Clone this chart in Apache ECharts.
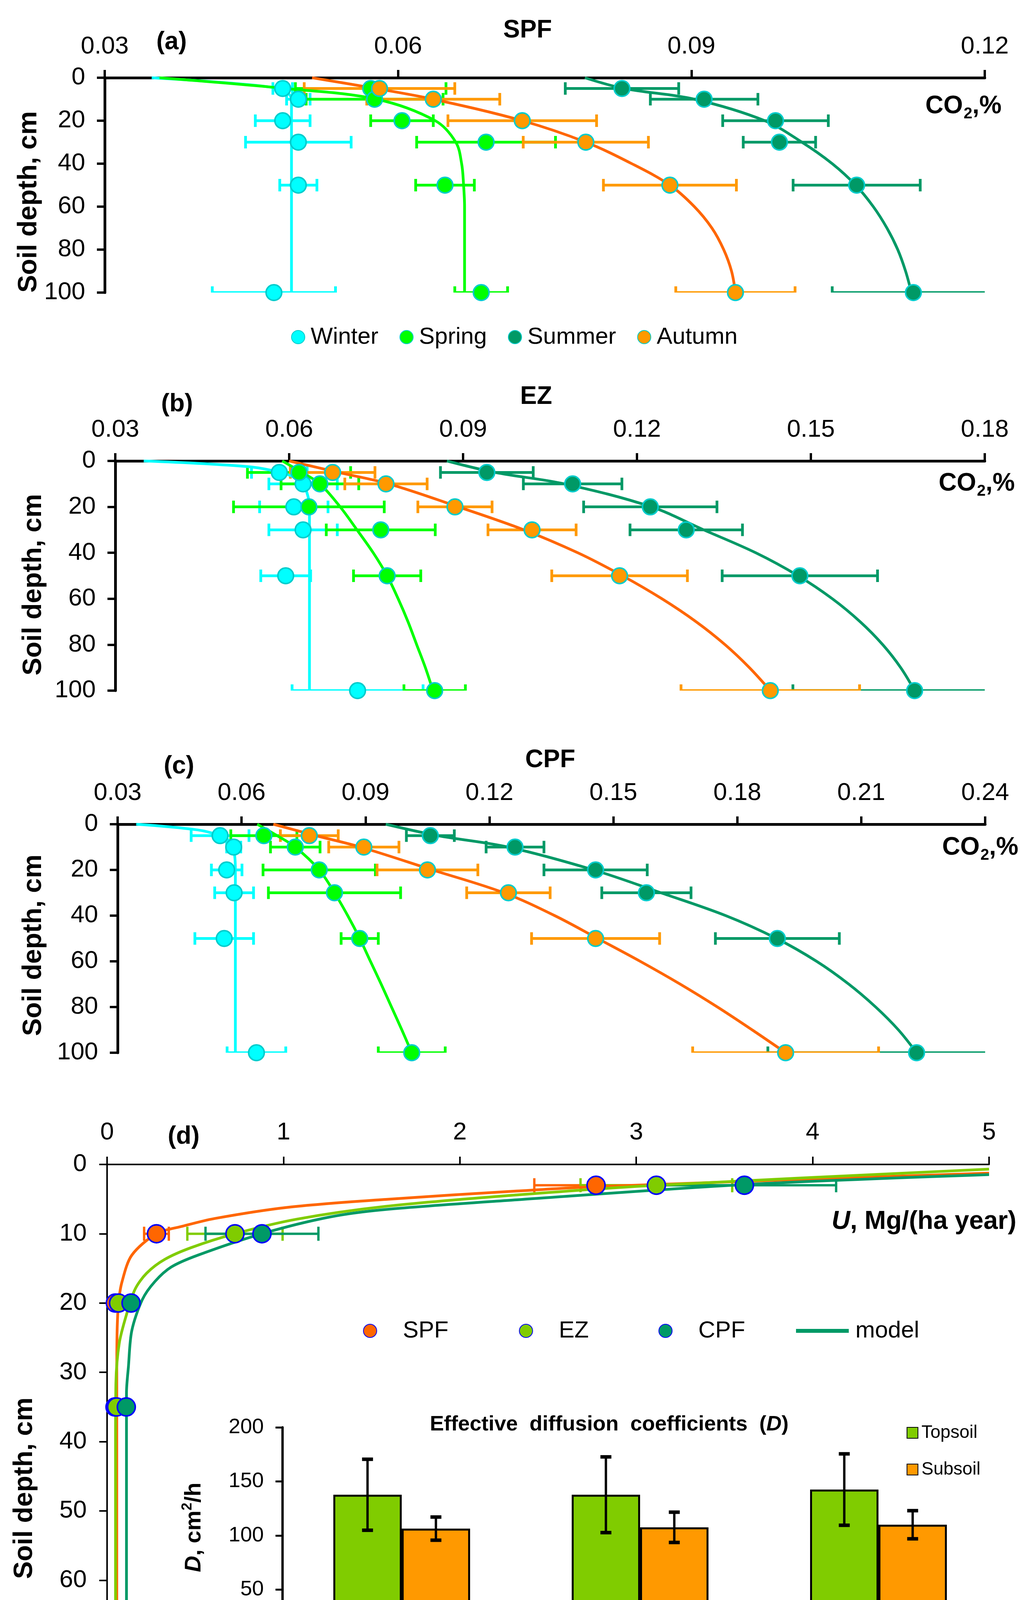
<!DOCTYPE html>
<html>
<head>
<meta charset="utf-8">
<title>Soil CO2 profiles and fluxes</title>
<script src="https://cdn.jsdelivr.net/npm/echarts@6/dist/echarts.min.js"></script>
<style>
  html, body { margin: 0; padding: 0; background: #fff; }
  #chart { width: 2646px; height: 4457px; }
</style>
</head>
<body>
<div id="chart"></div>
<script>
const FONT = 'Liberation Sans';

// sampling depths, cm
const DEPTHS = [5, 10, 20, 30, 50, 100];
const WINTER_MODEL_DEPTHS = [0, 2.5, 5, 7.5, 10, 15, 20, 40, 60, 80, 100];
const MODEL_DEPTHS = [0, 5, 10, 20, 30, 40, 50, 60, 70, 80, 90, 100];

// (a) SPF, CO2 %
const spfWinter = [0.0482, 0.0498, 0.0482, 0.0498, 0.0498, 0.0473];
const spfWinterErr = [0.001, 0.0012, 0.0028, 0.0054, 0.0019, 0.0063];
const spfSpring = [0.0572, 0.0576, 0.0604, 0.069, 0.0648, 0.0685];
const spfSpringErr = [0.0077, 0.007, 0.0032, 0.0071, 0.003, 0.0027];
const spfSummer = [0.0829, 0.0913, 0.0986, 0.099, 0.1069, 0.1127];
const spfSummerErr = [0.0058, 0.0055, 0.0054, 0.0037, 0.0065, 0.0083];
const spfAutumn = [0.0581, 0.0636, 0.0727, 0.0792, 0.0878, 0.0945];
const spfAutumnErr = [0.0077, 0.0068, 0.0076, 0.0064, 0.0068, 0.0061];
const spfWinterModel = [0.0348, 0.0428, 0.0478, 0.0488, 0.0491, 0.0491, 0.0491, 0.0491, 0.0491, 0.0491, 0.0491];
const spfSpringModel = [0.0356, 0.0485, 0.0578, 0.0638, 0.0659, 0.0665, 0.0667, 0.0668, 0.0668, 0.0668, 0.0668, 0.0668];
const spfSummerModel = [0.0791, 0.0831, 0.0903, 0.0975, 0.1013, 0.1044, 0.1068, 0.1086, 0.11, 0.1111, 0.1119, 0.1125];
const spfAutumnModel = [0.0512, 0.0577, 0.0636, 0.0727, 0.0792, 0.0839, 0.0878, 0.0903, 0.0921, 0.0933, 0.0941, 0.0945];

// (b) EZ, CO2 %
const ezWinter = [0.0583, 0.0624, 0.0608, 0.0624, 0.0594, 0.0718];
const ezWinterErr = [0.0048, 0.0059, 0.0059, 0.0059, 0.0043, 0.0113];
const ezSpring = [0.0617, 0.0653, 0.0634, 0.0758, 0.0769, 0.0851];
const ezSpringErr = [0.0089, 0.0067, 0.013, 0.0094, 0.0058, 0.0053];
const ezSummer = [0.0941, 0.1089, 0.1223, 0.1285, 0.1481, 0.1679];
const ezSummerErr = [0.008, 0.0085, 0.0115, 0.0097, 0.0134, 0.021];
const ezAutumn = [0.0675, 0.0767, 0.0886, 0.1019, 0.117, 0.143];
const ezAutumnErr = [0.0073, 0.0071, 0.0064, 0.0076, 0.0117, 0.0154];
const ezWinterModel = [0.0349, 0.053, 0.0585, 0.0612, 0.0624, 0.0632, 0.0635, 0.0635, 0.0635, 0.0635, 0.0635];
const ezSpringModel = [0.0588, 0.0622, 0.0653, 0.0688, 0.0717, 0.0745, 0.0769, 0.0788, 0.0805, 0.082, 0.0835, 0.0848];
const ezSummerModel = [0.0872, 0.0955, 0.1075, 0.1225, 0.1315, 0.1405, 0.1478, 0.1537, 0.1585, 0.1624, 0.1655, 0.1679];
const ezAutumnModel = [0.06, 0.0685, 0.0772, 0.0892, 0.1005, 0.1098, 0.1175, 0.1243, 0.1302, 0.1352, 0.1394, 0.143];

// (c) CPF, CO2 %
const cpfWinter = [0.0548, 0.0581, 0.0564, 0.0582, 0.0558, 0.0636];
const cpfWinterErr = [0.007, 0.0017, 0.0037, 0.0047, 0.0071, 0.0071];
const cpfSpring = [0.0654, 0.073, 0.0788, 0.0825, 0.0886, 0.1012];
const cpfSpringErr = [0.008, 0.006, 0.0136, 0.016, 0.0045, 0.0081];
const cpfSummer = [0.1057, 0.1262, 0.1457, 0.158, 0.1897, 0.2234];
const cpfSummerErr = [0.0058, 0.007, 0.0125, 0.0108, 0.015, 0.036];
const cpfAutumn = [0.0764, 0.0896, 0.105, 0.1246, 0.1457, 0.1917];
const cpfAutumnErr = [0.007, 0.0085, 0.0122, 0.0101, 0.0155, 0.0225];
const cpfWinterModel = [0.0345, 0.0494, 0.0548, 0.0572, 0.058, 0.0584, 0.0585, 0.0585, 0.0585, 0.0585, 0.0585];
const cpfSpringModel = [0.0638, 0.0686, 0.073, 0.0788, 0.0825, 0.0857, 0.0886, 0.0912, 0.0938, 0.0963, 0.0988, 0.1012];
const cpfSummerModel = [0.0949, 0.1075, 0.1245, 0.1452, 0.1615, 0.1772, 0.1895, 0.1992, 0.207, 0.2135, 0.219, 0.2234];
const cpfAutumnModel = [0.0677, 0.078, 0.0888, 0.1062, 0.1235, 0.1358, 0.1462, 0.1565, 0.1662, 0.1752, 0.1836, 0.1917];

// (d) CO2 flux U, Mg/(ha year)
const U_DEPTHS = [3, 10, 20, 35, 75];
const uSpf = [2.772, 0.28, 0.047, 0.045, 0.029];
const uSpfErr = [0.35, 0.07, 0, 0, 0];
const uEz = [3.114, 0.725, 0.065, 0.054, 0.09];
const uEzErr = [0.43, 0.27, 0, 0, 0];
const uCpf = [3.613, 0.878, 0.136, 0.109, 0.16];
const uCpfErr = [0.52, 0.32, 0, 0, 0];
const uSpfModelDepth = [1.25, 3.2, 3.84, 5.04, 6.2, 7.8, 8.9, 10, 13.1, 17, 20, 24, 30, 40, 50, 60, 75];
const uSpfModel = [5.0, 2.772, 2.323, 1.58, 1.02, 0.61, 0.43, 0.28, 0.14, 0.084, 0.065, 0.057, 0.055, 0.055, 0.055, 0.055, 0.055];
const uEzModelDepth = [0.68, 3.0, 4.4, 6.05, 7.9, 10, 12, 13.7, 15.7, 18, 21.5, 25.8, 31.6, 40, 50, 60, 75];
const uEzModel = [5.0, 3.114, 2.323, 1.58, 1.075, 0.725, 0.477, 0.327, 0.224, 0.159, 0.112, 0.069, 0.05, 0.048, 0.048, 0.048, 0.048];
const uCpfModelDepth = [1.47, 2.9, 5.1, 6.5, 7.6, 10, 13.1, 14.8, 16.9, 19.5, 24, 29.2, 33, 40, 50, 60, 75];
const uCpfModel = [5.0, 3.613, 2.323, 1.58, 1.26, 0.878, 0.514, 0.364, 0.271, 0.2, 0.14, 0.121, 0.11, 0.11, 0.11, 0.11, 0.11];

// inset: effective diffusion coefficients D, cm2/h
const sites = ['SPF', 'EZ', 'CPF'];
const topsoilD = [137.7, 137.7, 142.5];
const topsoilErr = [32.8, 35, 33];
const subsoilD = [106.4, 107.6, 110];
const subsoilErr = [10.7, 14, 13];

const seasonStyle = {
  Winter: { fill: '#00FFFF', line: '#00FFFF', err: '#00FFFF' },
  Spring: { fill: '#00FF00', line: '#00FF00', err: '#00FF00' },
  Summer: { fill: '#009966', line: '#009966', err: '#009966' },
  Autumn: { fill: '#FF9900', line: '#FF6600', err: '#FF9900' }
};

const panels = [
  { max: 0.12, sets: {
    Winter: [spfWinter, spfWinterErr, spfWinterModel, WINTER_MODEL_DEPTHS],
    Spring: [spfSpring, spfSpringErr, spfSpringModel, MODEL_DEPTHS],
    Summer: [spfSummer, spfSummerErr, spfSummerModel, MODEL_DEPTHS],
    Autumn: [spfAutumn, spfAutumnErr, spfAutumnModel, MODEL_DEPTHS] } },
  { max: 0.18, sets: {
    Winter: [ezWinter, ezWinterErr, ezWinterModel, WINTER_MODEL_DEPTHS],
    Spring: [ezSpring, ezSpringErr, ezSpringModel, MODEL_DEPTHS],
    Summer: [ezSummer, ezSummerErr, ezSummerModel, MODEL_DEPTHS],
    Autumn: [ezAutumn, ezAutumnErr, ezAutumnModel, MODEL_DEPTHS] } },
  { max: 0.24, sets: {
    Winter: [cpfWinter, cpfWinterErr, cpfWinterModel, WINTER_MODEL_DEPTHS],
    Spring: [cpfSpring, cpfSpringErr, cpfSpringModel, MODEL_DEPTHS],
    Summer: [cpfSummer, cpfSummerErr, cpfSummerModel, MODEL_DEPTHS],
    Autumn: [cpfAutumn, cpfAutumnErr, cpfAutumnModel, MODEL_DEPTHS] } }
];

function pairs(xs, ys) {
  return xs.map(function (x, i) { return [x, ys[i]]; });
}

function hErrorBar(color, width, cap) {
  return function (params, api) {
    const x = api.value(0), y = api.value(1), e = api.value(2);
    if (!e) return null;
    const a = api.coord([x - e, y]);
    const b = api.coord([x + e, y]);
    const st = { stroke: color, lineWidth: width };
    return { type: 'group', children: [
      { type: 'line', shape: { x1: a[0], y1: a[1], x2: b[0], y2: b[1] }, style: st },
      { type: 'line', shape: { x1: a[0], y1: a[1] - cap, x2: a[0], y2: a[1] + cap }, style: st },
      { type: 'line', shape: { x1: b[0], y1: b[1] - cap, x2: b[0], y2: b[1] + cap }, style: st }
    ] };
  };
}

const series = [];
const xAxes = [];
const yAxes = [];

panels.forEach(function (p, g) {
  xAxes.push({
    gridIndex: g, type: 'value', position: 'top', min: 0.03, max: p.max, interval: 0.03,
    axisLine: { show: true, onZero: false, lineStyle: { color: '#000', width: 7 } },
    axisTick: { show: true, length: 20, lineStyle: { color: '#000', width: 6 } },
    axisLabel: { color: '#000', fontSize: 63, fontFamily: FONT, margin: 48,
      showMinLabel: true, showMaxLabel: true, formatter: function (v) { return v.toFixed(2); } },
    splitLine: { show: false }
  });
  yAxes.push({
    gridIndex: g, type: 'value', inverse: true, min: 0, max: 100, interval: 20,
    axisLine: { show: true, onZero: false, lineStyle: { color: '#000', width: 7 } },
    axisTick: { show: true, length: 20, lineStyle: { color: '#000', width: 6 } },
    axisLabel: { color: '#000', fontSize: 63, fontFamily: FONT, margin: 50, showMinLabel: true, showMaxLabel: true },
    splitLine: { show: false }
  });
  Object.keys(p.sets).forEach(function (name) {
    const s = p.sets[name], st = seasonStyle[name];
    series.push({
      type: 'custom', name: name + ' sd', xAxisIndex: g, yAxisIndex: g, z: 2, clip: true,
      renderItem: hErrorBar(st.err, 7, 16), encode: { x: 0, y: 1 },
      data: DEPTHS.map(function (d, i) { return [s[0][i], d, s[1][i]]; })
    });
  });
  Object.keys(p.sets).forEach(function (name) {
    const s = p.sets[name], st = seasonStyle[name];
    series.push({
      type: 'line', name: name + ' model', xAxisIndex: g, yAxisIndex: g, z: 3,
      showSymbol: false, smooth: 0.35, silent: true,
      lineStyle: { color: st.line, width: 7 },
      data: pairs(s[2], s[3])
    });
  });
  Object.keys(p.sets).forEach(function (name) {
    const s = p.sets[name], st = seasonStyle[name];
    series.push({
      type: 'scatter', name: name, xAxisIndex: g, yAxisIndex: g, z: 4,
      symbol: 'circle', symbolSize: 40,
      itemStyle: { color: st.fill, borderColor: '#00CCCC', borderWidth: 4, opacity: 1 },
      data: pairs(s[0], DEPTHS)
    });
  });
});

// (d) flux panel
xAxes.push({
  gridIndex: 3, type: 'value', position: 'top', min: 0, max: 5, interval: 1,
  axisLine: { show: true, onZero: false, lineStyle: { color: '#000', width: 4 } },
  axisTick: { show: true, length: 20, lineStyle: { color: '#000', width: 4 } },
  axisLabel: { color: '#000', fontSize: 63, fontFamily: FONT, margin: 50, showMinLabel: true, showMaxLabel: true },
  splitLine: { show: false }
});
yAxes.push({
  gridIndex: 3, type: 'value', inverse: true, min: 0, max: 80, interval: 10,
  axisLine: { show: true, onZero: false, lineStyle: { color: '#000', width: 4 } },
  axisTick: { show: true, length: 20, lineStyle: { color: '#000', width: 4 } },
  axisLabel: { color: '#000', fontSize: 63, fontFamily: FONT, margin: 52, showMinLabel: true, showMaxLabel: true },
  splitLine: { show: false }
});

const fluxSets = [
  { name: 'SPF', color: '#FF6600', vals: uSpf, err: uSpfErr, model: uSpfModel, mdepth: uSpfModelDepth, line: 'SPF model' },
  { name: 'EZ', color: '#80CC00', vals: uEz, err: uEzErr, model: uEzModel, mdepth: uEzModelDepth, line: 'EZ model' },
  { name: 'CPF', color: '#009966', vals: uCpf, err: uCpfErr, model: uCpfModel, mdepth: uCpfModelDepth, line: 'model' }
];
fluxSets.forEach(function (f) {
  series.push({
    type: 'custom', name: f.name + ' sd', xAxisIndex: 3, yAxisIndex: 3, z: 2, clip: true,
    renderItem: hErrorBar(f.color, 6, 18), encode: { x: 0, y: 1 },
    data: U_DEPTHS.map(function (d, i) { return [f.vals[i], d, f.err[i]]; })
  });
});
fluxSets.forEach(function (f) {
  series.push({
    type: 'line', name: f.line, xAxisIndex: 3, yAxisIndex: 3, z: 3,
    showSymbol: false, smooth: 0.3, silent: true,
    itemStyle: { color: f.color },
    lineStyle: { color: f.color, width: 7 },
    data: pairs(f.model, f.mdepth)
  });
});
fluxSets.forEach(function (f) {
  series.push({
    type: 'scatter', name: f.name, xAxisIndex: 3, yAxisIndex: 3, z: 4,
    symbol: 'circle', symbolSize: 46,
    itemStyle: { color: f.color, borderColor: '#0000FF', borderWidth: 4, opacity: 1 },
    data: pairs(f.vals, U_DEPTHS)
  });
});

// inset bars
const BAR_W = 175;
xAxes.push({
  gridIndex: 4, type: 'category', data: sites,
  axisLine: { show: true, onZero: false, lineStyle: { color: '#000', width: 7 } },
  axisTick: { show: true, length: 18, lineStyle: { color: '#000', width: 5 } },
  axisLabel: { color: '#000', fontSize: 50, fontWeight: 'bold', fontFamily: FONT, margin: 44 }
});
yAxes.push({
  gridIndex: 4, type: 'value', min: 0, max: 200, interval: 50,
  axisLine: { show: true, onZero: false, lineStyle: { color: '#000', width: 6 } },
  axisTick: { show: true, length: 18, lineStyle: { color: '#000', width: 5 } },
  axisLabel: { color: '#000', fontSize: 54, fontFamily: FONT, margin: 48, showMinLabel: true, showMaxLabel: true },
  splitLine: { show: false }
});
series.push({
  type: 'bar', name: 'Topsoil', xAxisIndex: 4, yAxisIndex: 4, barWidth: BAR_W, barGap: '0%', z: 5,
  itemStyle: { color: '#80CC00', borderColor: '#000', borderWidth: 5 },
  data: topsoilD
});
series.push({
  type: 'bar', name: 'Subsoil', xAxisIndex: 4, yAxisIndex: 4, barWidth: BAR_W, barGap: '0%', z: 5,
  itemStyle: { color: '#FF9900', borderColor: '#000', borderWidth: 5 },
  data: subsoilD
});
function vErrorBar(offset) {
  return function (params, api) {
    const c = api.value(0), v = api.value(1), e = api.value(2);
    const hi = api.coord([c, v + e]);
    const lo = api.coord([c, v - e]);
    const x = hi[0] + offset;
    const cap = 14;
    const st = { stroke: '#000', lineWidth: 6 };
    return { type: 'group', children: [
      { type: 'line', shape: { x1: x, y1: hi[1], x2: x, y2: lo[1] }, style: st },
      { type: 'line', shape: { x1: x - cap, y1: hi[1], x2: x + cap, y2: hi[1] }, style: { stroke: '#000', lineWidth: 9 } },
      { type: 'line', shape: { x1: x - cap, y1: lo[1], x2: x + cap, y2: lo[1] }, style: { stroke: '#000', lineWidth: 9 } }
    ] };
  };
}
series.push({
  type: 'custom', name: 'Topsoil sd', xAxisIndex: 4, yAxisIndex: 4, z: 6,
  renderItem: vErrorBar(-BAR_W / 2), encode: { x: 0, y: 1 },
  data: sites.map(function (s, i) { return [i, topsoilD[i], topsoilErr[i]]; })
});
series.push({
  type: 'custom', name: 'Subsoil sd', xAxisIndex: 4, yAxisIndex: 4, z: 6,
  renderItem: vErrorBar(BAR_W / 2), encode: { x: 0, y: 1 },
  data: sites.map(function (s, i) { return [i, subsoilD[i], subsoilErr[i]]; })
});

function label(text, x, y, size, opts) {
  opts = opts || {};
  return {
    type: 'text', x: x, y: y, rotation: opts.rotation || 0, z: 100,
    style: {
      text: text, fill: '#000',
      font: (opts.weight || 'bold') + ' ' + size + 'px ' + FONT,
      rich: opts.rich,
      textAlign: opts.align || 'center', textVerticalAlign: 'middle'
    }
  };
}
function rs(size, extra) {
  return Object.assign({ fontSize: size, fontWeight: 'bold', fontFamily: FONT, fill: '#000' }, extra || {});
}
const co2Rich = {
  b: rs(64, { lineHeight: 80, verticalAlign: 'middle' }),
  s: rs(40, { verticalAlign: 'bottom', padding: [0, 0, 0, 2] })
};

const graphics = [
  label('SPF', 1350, 78, 64),
  label('EZ', 1372, 1016, 64),
  label('CPF', 1408, 1946, 64),
  label('(a)', 439, 108, 64),
  label('(b)', 453, 1035, 64),
  label('(c)', 458, 1962, 64),
  label('(d)', 470, 2910, 64),
  label('Soil depth, cm', 74, 517, 68, { rotation: Math.PI / 2 }),
  label('Soil depth, cm', 86, 1497, 68, { rotation: Math.PI / 2 }),
  label('Soil depth, cm', 86, 2420, 68, { rotation: Math.PI / 2 }),
  label('Soil depth, cm', 63, 3810, 68, { rotation: Math.PI / 2 }),
  label('{b|CO}{s|2}{b|,%}', 2563, 272, 64, { align: 'right', rich: co2Rich }),
  label('{b|CO}{s|2}{b|,%}', 2597, 1238, 64, { align: 'right', rich: co2Rich }),
  label('{b|CO}{s|2}{b|,%}', 2606, 2170, 64, { align: 'right', rich: co2Rich }),
  label('{i|U}{b|, Mg/(ha year)}', 2601, 3128, 66, { align: 'right', rich: {
    i: rs(66, { fontStyle: 'italic' }), b: rs(66) } }),
  label('{b|Effective  diffusion  coefficients  (}{i|D}{b|)}', 1559, 3647, 54, { rich: {
    b: rs(54), i: rs(54, { fontStyle: 'italic' }) } }),
  label('{i|D}{b|, cm}{u|2}{b|/h}', 497, 3910, 58, { rotation: Math.PI / 2, rich: {
    i: rs(58, { fontStyle: 'italic', lineHeight: 70 }), b: rs(58, { lineHeight: 70 }),
    u: rs(36, { verticalAlign: 'top' }) } })
];

function fluxLegend(name, markerCenter, opts) {
  return Object.assign({
    data: [name], left: markerCenter - 17, top: 3372, orient: 'horizontal', selectedMode: false,
    itemWidth: 34, itemHeight: 34, icon: 'circle',
    textStyle: { fontSize: 60, fontFamily: FONT, color: '#000', padding: [0, 0, 0, 62] }
  }, opts || {});
}

const chart = echarts.init(document.getElementById('chart'));
chart.setOption({
  backgroundColor: '#fff',
  animation: false,
  textStyle: { fontFamily: FONT },
  grid: [
    { left: 268, top: 199, width: 2252, height: 550 },
    { left: 295, top: 1180, width: 2225, height: 588 },
    { left: 301, top: 2110, width: 2220, height: 585 },
    { left: 274, top: 2981, width: 2257, height: 1419 },
    { left: 723, top: 3654, width: 1830, height: 554 }
  ],
  xAxis: xAxes,
  yAxis: yAxes,
  legend: [
    {
      data: ['Winter', 'Spring', 'Summer', 'Autumn'], left: 740, top: 828, itemGap: 54,
      itemWidth: 34, itemHeight: 34, icon: 'circle', selectedMode: false,
      textStyle: { fontSize: 60, fontFamily: FONT, color: '#000', padding: [0, 0, 0, 10] }
    },
    fluxLegend('SPF', 941),
    fluxLegend('EZ', 1340),
    fluxLegend('CPF', 1697),
    {
      data: ['model'], left: 2032, top: 3372, selectedMode: false,
      icon: 'rect', itemWidth: 135, itemHeight: 10,
      textStyle: { fontSize: 60, fontFamily: FONT, color: '#000', padding: [0, 0, 0, 12] }
    },
    {
      data: ['Topsoil', 'Subsoil'], left: 2315, top: 3640, orient: 'vertical', itemGap: 48,
      itemWidth: 28, itemHeight: 28, icon: 'rect', selectedMode: false,
      textStyle: { fontSize: 46, fontFamily: FONT, color: '#000', padding: [0, 0, 0, 4] }
    }
  ],
  series: series,
  graphic: graphics
});
</script>
</body>
</html>
